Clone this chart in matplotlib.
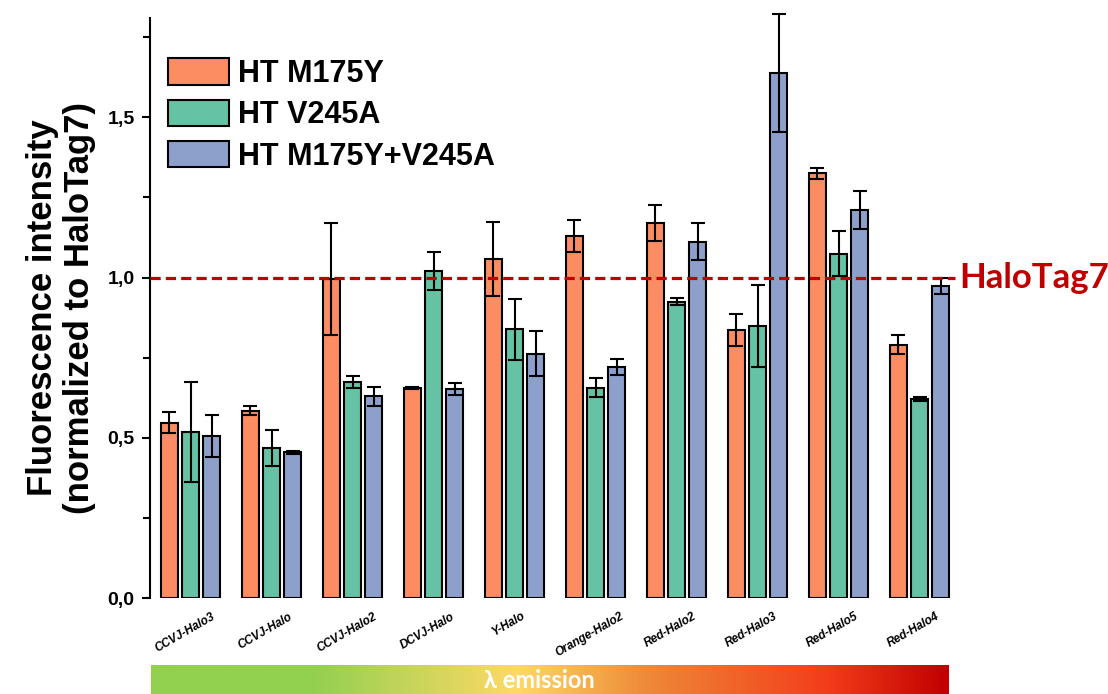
import numpy as np
from matplotlib import pyplot as plt
from matplotlib.colors import LinearSegmentedColormap
from matplotlib.ticker import MultipleLocator, FuncFormatter
from matplotlib.transforms import ScaledTranslation

# Data
probes = ["CCVJ-Halo3", "CCVJ-Halo", "CCVJ-Halo2", "DCVJ-Halo", "Y-Halo",
          "Orange-Halo2", "Red-Halo2", "Red-Halo3", "Red-Halo5", "Red-Halo4"]

m175y = [0.547, 0.585, 0.995, 0.655, 1.058, 1.130, 1.170, 0.835, 1.326, 0.790]
m175y_err = [0.033, 0.015, 0.175, 0.002, 0.115, 0.050, 0.057, 0.050, 0.017, 0.030]

v245a = [0.518, 0.468, 0.674, 1.020, 0.838, 0.656, 0.925, 0.848, 1.075, 0.620]
v245a_err = [0.157, 0.057, 0.020, 0.060, 0.095, 0.030, 0.012, 0.128, 0.070, 0.006]

double = [0.506, 0.455, 0.630, 0.652, 0.762, 0.722, 1.112, 1.638, 1.210, 0.973]
double_err = [0.065, 0.005, 0.030, 0.020, 0.070, 0.025, 0.057, 0.185, 0.060, 0.025]

series = [
    ("HT M175Y", m175y, m175y_err, "#FC8D62"),
    ("HT V245A", v245a, v245a_err, "#66C2A5"),
    ("HT M175Y+V245A", double, double_err, "#8DA0CB"),
]

reference_level = 1.0

plt.rcParams['font.family'] = ['Liberation Sans', 'DejaVu Sans']

fig = plt.figure(figsize=(11.08, 6.94), dpi=100)
ax = fig.add_axes([150 / 1108, 1 - 598 / 694, 810 / 1108, 580 / 694])

x = np.arange(len(probes))
step = 0.26
for i, (label, values, errs, color) in enumerate(series):
    ax.bar(x + (i - 1) * step, values, width=0.2, color=color,
           edgecolor="black", linewidth=1.5, label=label, zorder=2)
    ax.errorbar(x + (i - 1) * step, values, yerr=errs, fmt="none",
                ecolor="black", elinewidth=1.5, capsize=5, capthick=1.5,
                zorder=3, clip_on=False)

# HaloTag7 reference line
ax.hlines(reference_level, -0.5, 9.44, colors="#C00000", linewidth=2.3,
          linestyles=(0, (3.2, 1.6)), zorder=4)
ax.text(9.49, reference_level, "HaloTag7", color="#C00000", fontsize=25,
        fontweight="bold", family=["Lato", "DejaVu Sans"],
        ha="left", va="center")

ax.set_xlim(-0.5, 9.5)
ax.set_ylim(0, 1.81)

for side in ["top", "right", "bottom"]:
    ax.spines[side].set_visible(False)
ax.spines["left"].set_linewidth(1.5)

ax.yaxis.set_major_locator(MultipleLocator(0.5))
ax.yaxis.set_minor_locator(MultipleLocator(0.25))
ax.yaxis.set_major_formatter(FuncFormatter(lambda v, p: f"{v:.1f}".replace(".", ",")))
ax.tick_params(axis="y", which="major", direction="out", length=6, width=1.5,
               labelsize=14, pad=5)
ax.tick_params(axis="y", which="minor", direction="out", length=5, width=1.5)
for t in ax.get_yticklabels():
    t.set_fontweight("bold")

ax.set_xticks(x)
ax.set_xticklabels(probes, rotation=30, ha="center", va="top",
                   fontsize=8.5, fontweight="bold", fontstyle="italic")
ax.tick_params(axis="x", length=0, pad=9)
shift = ScaledTranslation(-6 / 100, 0, fig.dpi_scale_trans)
for t in ax.get_xticklabels():
    t.set_transform(t.get_transform() + shift)

ax.set_ylabel("Fluorescence intensity\n(normalized to HaloTag7)", fontsize=25,
              fontweight="bold", labelpad=8, linespacing=1.15)

ax.legend(loc="upper left", bbox_to_anchor=(-0.012, 0.978), frameon=False,
          prop={"size": 22, "weight": "bold"}, handlelength=2.0,
          handleheight=0.95, handletextpad=0.3, labelspacing=0.35,
          borderaxespad=0.5)

# Emission gradient strip
grad_ax = fig.add_axes([151 / 1108, 0, 798 / 1108, 29 / 694])
cmap = LinearSegmentedColormap.from_list(
    "emission",
    [(0.0, "#92D050"), (0.2, "#92D050"), (0.46, "#FFD966"),
     (0.62, "#EE8A38"), (0.85, "#F33C1A"), (1.0, "#C00000")])
grad_ax.imshow(np.linspace(0, 1, 512).reshape(1, -1), aspect="auto", cmap=cmap,
               extent=(0, 1, 0, 1))
grad_ax.set_axis_off()
grad_ax.text(0.487, 0.45, "λ emission", color="white", fontsize=17,
             fontweight="bold", family=["Lato", "DejaVu Sans"],
             ha="center", va="center", transform=grad_ax.transAxes)

plt.savefig("out.png", dpi=100)
plt.close()
